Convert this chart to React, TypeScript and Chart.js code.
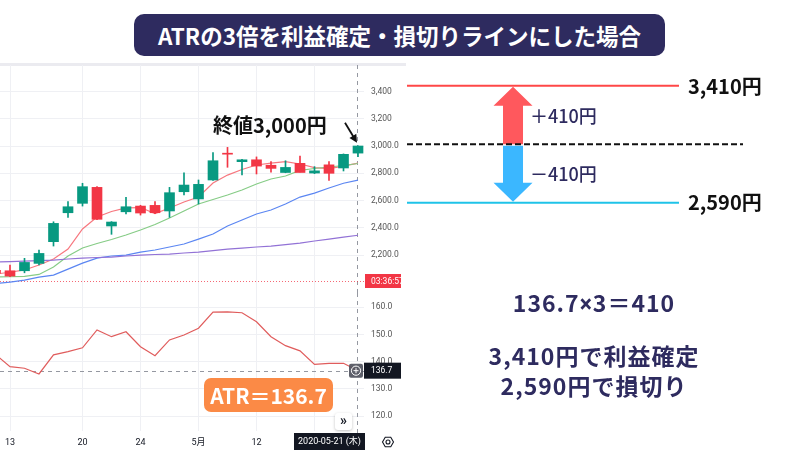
import React, { useEffect, useRef } from 'react';
import { Chart, registerables } from 'chart.js';

Chart.register(...registerables);
Chart.defaults.font.family = "Roboto, 'Noto Sans CJK JP', sans-serif";

// ---------- data ----------
const DATES = [
  '2020-04-10', '2020-04-13', '2020-04-14', '2020-04-15', '2020-04-16', '2020-04-17',
  '2020-04-20', '2020-04-21', '2020-04-22', '2020-04-23', '2020-04-24', '2020-04-27',
  '2020-04-28', '2020-04-30', '2020-05-01', '2020-05-07', '2020-05-08', '2020-05-11',
  '2020-05-12', '2020-05-13', '2020-05-14', '2020-05-15', '2020-05-18', '2020-05-19',
  '2020-05-20', '2020-05-21',
];
const OPEN = [2090, 2086, 2086, 2140, 2299, 2511, 2580, 2697, 2414, 2518, 2560, 2565, 2524, 2665, 2612, 2751, 2945, 2885, 2899, 2859, 2806, 2873, 2802, 2862, 2839, 2948];
const HIGH = [2096, 2128, 2177, 2238, 2445, 2592, 2727, 2702, 2446, 2624, 2566, 2592, 2697, 2804, 2751, 2951, 2990, 2902, 2920, 2885, 2892, 2927, 2849, 2885, 2942, 3002];
const LOW = [2062, 2042, 2071, 2128, 2267, 2477, 2560, 2460, 2353, 2502, 2494, 2505, 2477, 2641, 2575, 2748, 2844, 2789, 2795, 2808, 2804, 2810, 2798, 2748, 2817, 2922];
const CLOSE = [2069, 2047, 2147, 2213, 2433, 2555, 2702, 2463, 2443, 2555, 2509, 2511, 2658, 2714, 2719, 2892, 2940, 2899, 2853, 2836, 2843, 2806, 2818, 2800, 2939, 3000];

const MA_FAST = [2062, 2075, 2092, 2128, 2172, 2245, 2392, 2480, 2520, 2546, 2549, 2505, 2546, 2590, 2626, 2729, 2787, 2828, 2861, 2875, 2886, 2868, 2842, 2835, 2853, 2875];
const MA_MID = [2040, 2042, 2045, 2059, 2114, 2194, 2253, 2286, 2315, 2348, 2385, 2425, 2473, 2524, 2575, 2608, 2641, 2678, 2722, 2758, 2780, 2821, 2835, 2846, 2857, 2872];
const MA_SLOW = [1992, 2003, 2018, 2040, 2054, 2098, 2142, 2179, 2194, 2201, 2223, 2238, 2260, 2282, 2318, 2355, 2414, 2458, 2502, 2531, 2575, 2626, 2655, 2692, 2727, 2750];
const MA_LONG = [2150, 2153, 2157, 2161, 2164, 2172, 2179, 2183, 2186, 2194, 2201, 2205, 2208, 2216, 2223, 2234, 2245, 2252, 2260, 2267, 2278, 2289, 2304, 2318, 2333, 2346];

const ATR = [142.6, 138.2, 137.6, 135.5, 142.5, 143.7, 145.1, 151.7, 149.2, 151.0, 145.5, 142.2, 148.0, 149.8, 152.3, 158.2, 158.3, 158.0, 154.7, 149.2, 145.9, 144.0, 139.0, 139.4, 139.4, 136.7];

const PRICE_TICKS = [2200, 2400, 2600, 2800, 3000, 3200, 3400];
const PRICE_TICK_LABELS = ['2,200.0', '2,400.0', '2,600.0', '2,800.0', '3,000.0', '3,200', '3,400'];
const ATR_TICKS = [120, 130, 140, 150, 160];
const X_TICK_DATES = ['2020-04-13', '2020-04-20', '2020-04-24', '2020-05-01', '2020-05-12', '2020-05-18'];
const X_TICK_LABELS = ['13', '20', '24', '5月', '12', ''];

const COUNTDOWN_PRICE = 2011;
const COUNTDOWN_LABEL = '03:36:57';
const CROSSHAIR_DATE = '2020-05-21';
const CROSSHAIR_LABEL = '2020-05-21 (木)';

const LAST_CLOSE = CLOSE[CLOSE.length - 1];
const ATR_LAST = ATR[ATR.length - 1];
const ATR_MULT = 3;
const OFFSET = Math.round(ATR_LAST * ATR_MULT);
const TAKE_PROFIT = LAST_CLOSE + OFFSET;
const STOP_LOSS = LAST_CLOSE - OFFSET;

// ---------- styles / layout ----------
const GREEN = '#089981';
const RED = '#f23645';
const GRID = '#eff0f4';
const NAVY = '#2e2b5f';
const X_MIN = 0.3103;
const X_MAX = 25.4138;
const LEVEL_LINE_END = 0.8095;
const ARROW_X = 0.3155;

const idxOf = (d: string) => DATES.indexOf(d);
const fmtNum = (n: number) => n.toLocaleString('en-US');

const zeroPad = (s: any) => {
  s.paddingTop = 0;
  s.paddingBottom = 0;
  s.paddingLeft = 0;
  s.paddingRight = 0;
};

const xTickScale = (withLabels: boolean) => ({
  type: 'linear',
  min: X_MIN,
  max: X_MAX,
  offset: false,
  afterBuildTicks: (s: any) => {
    s.ticks = X_TICK_DATES.map((d) => ({ value: idxOf(d) }));
  },
  afterFit: (s: any) => {
    s.height = withLabels ? 19 : 0;
    zeroPad(s);
  },
  grid: { color: GRID, drawTicks: false, offset: false },
  border: { display: false },
  ticks: {
    display: withLabels,
    autoSkip: false,
    maxRotation: 0,
    padding: 6,
    color: '#131722',
    font: { size: 9 },
    callback: (v: any) => {
      const k = X_TICK_DATES.indexOf(DATES[v]);
      return k >= 0 ? X_TICK_LABELS[k] : '';
    },
  },
});

const yRightScale = (min: number, max: number, ticks: number[], label: (v: number) => string) => ({
  type: 'linear',
  position: 'right',
  min,
  max,
  beginAtZero: false,
  afterBuildTicks: (s: any) => {
    s.ticks = ticks.map((v) => ({ value: v }));
  },
  afterFit: (s: any) => {
    s.width = 37;
    zeroPad(s);
  },
  grid: { color: GRID, drawTicks: false },
  border: { display: false },
  ticks: {
    padding: 7,
    color: '#555',
    font: { size: 8.5 },
    callback: (v: any) => label(Number(v)),
  },
});

const pricePanePlugin = {
  id: 'pricePane',
  beforeDatasetsDraw(chart: any) {
    const { ctx, chartArea: a, scales } = chart;
    const xc = Math.round(scales.x.getPixelForValue(idxOf(CROSSHAIR_DATE))) - 0.5;
    const yp = Math.round(scales.y.getPixelForValue(COUNTDOWN_PRICE)) + 0.5;
    ctx.save();
    ctx.lineWidth = 1;
    ctx.strokeStyle = '#9598a1';
    ctx.setLineDash([4, 4]);
    ctx.beginPath();
    ctx.moveTo(xc, a.top);
    ctx.lineTo(xc, a.bottom);
    ctx.stroke();
    ctx.strokeStyle = 'rgba(242,54,69,0.75)';
    ctx.setLineDash([1, 2]);
    ctx.beginPath();
    ctx.moveTo(a.left, yp);
    ctx.lineTo(a.right, yp);
    ctx.stroke();
    ctx.restore();
  },
  afterDraw(chart: any) {
    const { ctx, chartArea: a, scales } = chart;
    const yp = scales.y.getPixelForValue(COUNTDOWN_PRICE);
    ctx.save();
    ctx.fillStyle = RED;
    ctx.fillRect(a.right + 1, yp - 7, 40, 14);
    ctx.fillStyle = '#fff';
    ctx.font = '8.5px Roboto';
    ctx.textBaseline = 'middle';
    ctx.textAlign = 'left';
    ctx.fillText(COUNTDOWN_LABEL, a.right + 7, yp + 0.5);

    const last = DATES.length - 1;
    const tipX = scales.x.getPixelForValue(last) - 1;
    const tipY = scales.y.getPixelForValue(HIGH[last]) - 3;
    const tailX = tipX - 12;
    const tailY = tipY - 20;
    const ang = Math.atan2(tipY - tailY, tipX - tailX);
    const c = Math.cos(ang);
    const s = Math.sin(ang);
    ctx.strokeStyle = '#111';
    ctx.lineWidth = 1.8;
    ctx.beginPath();
    ctx.moveTo(tailX, tailY);
    ctx.lineTo(tipX - 6 * c, tipY - 6 * s);
    ctx.stroke();
    ctx.fillStyle = '#111';
    ctx.beginPath();
    ctx.moveTo(tipX, tipY);
    ctx.lineTo(tipX - 8 * c + 4 * s, tipY - 8 * s - 4 * c);
    ctx.lineTo(tipX - 8 * c - 4 * s, tipY - 8 * s + 4 * c);
    ctx.closePath();
    ctx.fill();
    ctx.restore();
  },
};

const atrPanePlugin = {
  id: 'atrPane',
  beforeDatasetsDraw(chart: any) {
    const { ctx, chartArea: a, scales } = chart;
    const xc = Math.round(scales.x.getPixelForValue(idxOf(CROSSHAIR_DATE))) - 0.5;
    const yv = Math.round(scales.y.getPixelForValue(ATR_LAST)) + 0.5;
    ctx.save();
    ctx.lineWidth = 1;
    ctx.strokeStyle = '#9598a1';
    ctx.setLineDash([4, 4]);
    ctx.beginPath();
    ctx.moveTo(xc, a.top);
    ctx.lineTo(xc, a.bottom + 2);
    ctx.stroke();
    ctx.beginPath();
    ctx.moveTo(a.left, yv);
    ctx.lineTo(a.right, yv);
    ctx.stroke();
    ctx.restore();
  },
  afterDraw(chart: any) {
    const { ctx, chartArea: a, scales } = chart;
    const yv = scales.y.getPixelForValue(ATR_LAST);
    ctx.save();
    // plus icon
    const px = a.right - 15;
    ctx.fillStyle = 'rgba(80,83,94,0.92)';
    ctx.beginPath();
    ctx.roundRect(px, yv - 7, 14, 14, 2);
    ctx.fill();
    ctx.strokeStyle = '#fff';
    ctx.lineWidth = 1;
    ctx.beginPath();
    ctx.arc(px + 7, yv, 4.6, 0, Math.PI * 2);
    ctx.stroke();
    ctx.beginPath();
    ctx.moveTo(px + 4.5, yv);
    ctx.lineTo(px + 9.5, yv);
    ctx.moveTo(px + 7, yv - 2.5);
    ctx.lineTo(px + 7, yv + 2.5);
    ctx.stroke();
    // value label
    ctx.fillStyle = '#131722';
    ctx.fillRect(a.right, yv - 8, 40, 16);
    ctx.fillStyle = '#fff';
    ctx.font = '8.5px Roboto';
    ctx.textBaseline = 'middle';
    ctx.textAlign = 'left';
    ctx.fillText(ATR_LAST.toFixed(1), a.right + 7, yv + 0.5);
    // date label
    const xc = scales.x.getPixelForValue(idxOf(CROSSHAIR_DATE));
    const w = 71;
    const left = Math.min(xc - w / 2, a.right + 1 - w);
    ctx.fillStyle = '#131722';
    ctx.fillRect(left, a.bottom + 2, w, 17);
    ctx.fillStyle = '#fff';
    ctx.font = "9px Roboto, 'Noto Sans CJK JP'";
    ctx.textAlign = 'center';
    ctx.fillText(CROSSHAIR_LABEL, left + w / 2, a.bottom + 11);
    // gear icon
    const gx = a.right + 24;
    const gy = a.bottom + 11;
    ctx.strokeStyle = '#131722';
    ctx.lineWidth = 1.1;
    ctx.beginPath();
    for (let k = 0; k < 6; k++) {
      const t = (Math.PI / 3) * k;
      const X = gx + 5.5 * Math.cos(t);
      const Y = gy + 5.5 * Math.sin(t);
      if (k === 0) ctx.moveTo(X, Y);
      else ctx.lineTo(X, Y);
    }
    ctx.closePath();
    ctx.stroke();
    ctx.beginPath();
    ctx.arc(gx, gy, 2, 0, Math.PI * 2);
    ctx.stroke();
    ctx.restore();
  },
};

const levelArrowsPlugin = {
  id: 'levelArrows',
  beforeDatasetsDraw(chart: any) {
    const { ctx, scales } = chart;
    const cx = scales.x.getPixelForValue(ARROW_X);
    const yC = scales.y.getPixelForValue(LAST_CLOSE);
    const yT = scales.y.getPixelForValue(TAKE_PROFIT);
    const yS = scales.y.getPixelForValue(STOP_LOSS);
    const sh = 10;
    const hw = 19.5;
    const hl = 20;
    ctx.save();
    ctx.fillStyle = '#ff585d';
    ctx.beginPath();
    ctx.moveTo(cx - sh, yC);
    ctx.lineTo(cx - sh, yT + hl);
    ctx.lineTo(cx - hw, yT + hl);
    ctx.lineTo(cx, yT + 1);
    ctx.lineTo(cx + hw, yT + hl);
    ctx.lineTo(cx + sh, yT + hl);
    ctx.lineTo(cx + sh, yC);
    ctx.closePath();
    ctx.fill();
    ctx.fillStyle = '#3bb7ff';
    ctx.beginPath();
    ctx.moveTo(cx - sh, yC + 1.5);
    ctx.lineTo(cx - sh, yS - hl);
    ctx.lineTo(cx - hw, yS - hl);
    ctx.lineTo(cx, yS - 1);
    ctx.lineTo(cx + hw, yS - hl);
    ctx.lineTo(cx + sh, yS - hl);
    ctx.lineTo(cx + sh, yC + 1.5);
    ctx.closePath();
    ctx.fill();
    ctx.restore();
  },
};

const baseOptions = {
  responsive: false,
  animation: false,
  events: [],
  layout: { padding: 0 },
  plugins: { legend: { display: false }, tooltip: { enabled: false } },
};

function PriceChart() {
  const ref = useRef<HTMLCanvasElement>(null);
  useEffect(() => {
    const colors = DATES.map((_, i) => (CLOSE[i] >= OPEN[i] ? GREEN : RED));
    const line = (label: string, arr: number[], color: string) => ({
      type: 'line',
      label,
      data: DATES.map((_, i) => ({ x: i, y: arr[i] })),
      borderColor: color,
      borderWidth: 1.2,
      pointRadius: 0,
      tension: 0,
      order: 3,
    });
    const chart = new Chart(ref.current as HTMLCanvasElement, {
      type: 'bar',
      data: {
        datasets: [
          line('MA long', MA_LONG, '#9272d6'),
          line('MA slow', MA_SLOW, '#5b86f2'),
          line('MA mid', MA_MID, '#86cc86'),
          line('MA fast', MA_FAST, '#f7777f'),
          {
            type: 'bar',
            label: 'wick',
            data: DATES.map((_, i) => ({ x: i, y: [LOW[i], HIGH[i]] })),
            backgroundColor: colors,
            barThickness: 1,
            grouped: false,
            order: 2,
          },
          {
            type: 'bar',
            label: 'body',
            data: DATES.map((_, i) => ({ x: i, y: [OPEN[i], CLOSE[i]] })),
            backgroundColor: colors,
            barThickness: 10,
            minBarLength: 1,
            grouped: false,
            order: 1,
          },
        ] as any,
      },
      options: {
        ...baseOptions,
        scales: {
          x: xTickScale(false) as any,
          y: yRightScale(1923.1, 3593.4, PRICE_TICKS, (v) => PRICE_TICK_LABELS[PRICE_TICKS.indexOf(v)] ?? fmtNum(v)) as any,
        },
      },
      plugins: [pricePanePlugin],
    } as any);
    return () => chart.destroy();
  }, []);
  return <canvas ref={ref} width={401} height={228} style={{ position: 'absolute', left: 0, top: 65 }} />;
}

function AtrChart() {
  const ref = useRef<HTMLCanvasElement>(null);
  useEffect(() => {
    const chart = new Chart(ref.current as HTMLCanvasElement, {
      type: 'line',
      data: {
        datasets: [
          {
            label: 'ATR',
            data: DATES.map((_, i) => ({ x: i, y: ATR[i] })),
            borderColor: '#e05c5c',
            borderWidth: 1.2,
            pointRadius: 0,
            tension: 0,
          },
        ],
      },
      options: {
        ...baseOptions,
        scales: {
          x: xTickScale(true) as any,
          y: yRightScale(114.52, 165.26, ATR_TICKS, (v) => v.toFixed(1)) as any,
        },
      },
      plugins: [atrPanePlugin],
    } as any);
    return () => chart.destroy();
  }, []);
  return <canvas ref={ref} width={401} height={157} style={{ position: 'absolute', left: 0, top: 293 }} />;
}

function LevelChart() {
  const ref = useRef<HTMLCanvasElement>(null);
  useEffect(() => {
    const chart = new Chart(ref.current as HTMLCanvasElement, {
      type: 'line',
      data: {
        datasets: [
          {
            label: '利益確定',
            data: [{ x: 0, y: TAKE_PROFIT }, { x: LEVEL_LINE_END, y: TAKE_PROFIT }],
            borderColor: '#ff4747',
            borderWidth: 2,
            pointRadius: 0,
          },
          {
            label: '終値',
            data: [{ x: 0, y: LAST_CLOSE }, { x: 1, y: LAST_CLOSE }],
            borderColor: '#111',
            borderWidth: 2,
            borderDash: [6, 3],
            pointRadius: 0,
          },
          {
            label: '損切り',
            data: [{ x: 0, y: STOP_LOSS }, { x: LEVEL_LINE_END, y: STOP_LOSS }],
            borderColor: '#1fc3e8',
            borderWidth: 2,
            pointRadius: 0,
          },
        ],
      },
      options: {
        ...baseOptions,
        layout: { padding: { left: 6, right: 57, top: 0, bottom: 0 } },
        scales: {
          x: { type: 'linear', display: false, min: 0, max: 1 },
          y: { type: 'linear', display: false, min: 2433.7, max: 3555.1 },
        },
      },
      plugins: [levelArrowsPlugin],
    } as any);
    return () => chart.destroy();
  }, []);
  return <canvas ref={ref} width={399} height={160} style={{ position: 'absolute', left: 401, top: 65 }} />;
}

const JP = "'Noto Sans CJK JP', 'Noto Sans', sans-serif";

const T = (p: { left: number; top: number; size: number; color: string; weight?: number; lh: number; children: React.ReactNode; width?: number; center?: boolean; ls?: number }) => (
  <div
    style={{
      position: 'absolute',
      left: p.left,
      top: p.top,
      width: p.width,
      textAlign: p.center ? 'center' : 'left',
      fontFamily: JP,
      fontSize: p.size,
      lineHeight: `${p.lh}px`,
      fontWeight: p.weight ?? 700,
      color: p.color,
      whiteSpace: 'nowrap',
      letterSpacing: p.ls ?? 0,
    }}
  >
    {p.children}
  </div>
);

export default function App() {
  return (
    <div style={{ position: 'absolute', left: 0, top: 0, width: 800, height: 450, overflow: 'hidden', background: '#fff' }}>
      <div style={{ position: 'absolute', left: 0, top: 63, width: 406, height: 3, background: '#ebebf0' }} />
      <PriceChart />
      <AtrChart />
      <LevelChart />

      <div
        style={{
          position: 'absolute', left: 134, top: 14, width: 531, height: 42, borderRadius: 10,
          background: NAVY, color: '#fff', fontFamily: JP, fontWeight: 700, fontSize: 22.5,
          display: 'flex', alignItems: 'center', justifyContent: 'center', whiteSpace: 'nowrap',
        }}
      >
        ATRの3倍を利益確定・損切りラインにした場合
      </div>

      <T left={213} top={113} size={20} lh={24} color="#111">終値{fmtNum(LAST_CLOSE)}円</T>
      <T left={688} top={74} size={20} lh={24} color="#111">{fmtNum(TAKE_PROFIT)}円</T>
      <T left={688} top={190} size={20} lh={24} color="#111">{fmtNum(STOP_LOSS)}円</T>
      <T left={530} top={104} size={18} lh={22} weight={500} color={NAVY}>＋{OFFSET}円</T>
      <T left={530} top={162} size={18} lh={22} weight={500} color={NAVY}>－{OFFSET}円</T>

      <T left={400} width={388} center top={288} size={23} lh={28} color={NAVY} ls={1}>
        {ATR_LAST}<span style={{ fontFamily: 'Roboto, sans-serif', fontWeight: 700 }}>×</span>{ATR_MULT}＝{OFFSET}
      </T>
      <T left={400} width={388} center top={341} size={23} lh={28} color={NAVY} ls={1}>{fmtNum(TAKE_PROFIT)}円で利益確定</T>
      <T left={400} width={388} center top={371} size={23} lh={28} color={NAVY} ls={1}>{fmtNum(STOP_LOSS)}円で損切り</T>

      <div
        style={{
          position: 'absolute', left: 204, top: 378, width: 129, height: 34, borderRadius: 7,
          background: '#fb8a46', color: '#fff', fontFamily: JP, fontWeight: 700, fontSize: 21,
          display: 'flex', alignItems: 'center', justifyContent: 'center', whiteSpace: 'nowrap',
        }}
      >
        ATR＝{ATR_LAST}
      </div>

      <div
        style={{
          position: 'absolute', left: 335, top: 413, width: 17, height: 17, borderRadius: 3,
          background: '#fff', boxShadow: '0 1px 3px rgba(0,0,0,0.25)', color: '#131722',
          fontFamily: 'Roboto, sans-serif', fontSize: 14, fontWeight: 700, lineHeight: '15px', textAlign: 'center',
        }}
      >
        »
      </div>
    </div>
  );
}
